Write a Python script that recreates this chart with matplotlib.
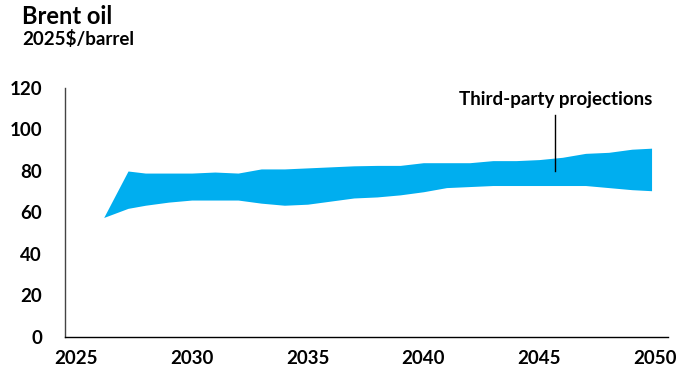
import matplotlib
matplotlib.use("Agg")
import matplotlib.pyplot as plt
import numpy as np

plt.rcParams['font.family'] = ['Lato', 'DejaVu Sans']
plt.rcParams['font.weight'] = 'bold'

# band of third-party projections (2025$/barrel)
years = [2026.2, 2027.25, 2028, 2029, 2030, 2031, 2032, 2033, 2034, 2035, 2036, 2037,
         2038, 2039, 2040, 2041, 2042, 2043, 2044, 2045, 2046, 2047, 2048, 2049, 2049.85]
upper = [57.6, 80, 79, 79, 79, 79.5, 79, 81, 81, 81.5, 82, 82.5,
         82.7, 82.7, 84, 84, 84, 85, 85, 85.5, 86.6, 88.5, 89, 90.5, 91]
lower = [57.6, 62, 63.5, 65, 66, 66, 66, 64.5, 63.5, 64, 65.5, 67,
         67.5, 68.5, 70, 72, 72.5, 73, 73, 73, 73, 73, 72, 71, 70.5]

xticks = [2025, 2030, 2035, 2040, 2045, 2050]
yticks = [0, 20, 40, 60, 80, 100, 120]

label_year = 2045.7
label_text = "Third-party projections"

fig = plt.figure(figsize=(6.78, 3.71), dpi=100)
ax = fig.add_axes([65/678, (371-337)/371, (668-65)/678, (337-88)/371])

ax.fill_between(years, lower, upper, color="#00AEEF", linewidth=0)

# label line + text
ax.plot([label_year, label_year], [80, 107], color="black", lw=1)
ax.text(label_year, 114.5, label_text, ha="center", va="center", fontsize=13.5, fontweight="bold")

ax.set_xlim(2024.53, 2050.56)
ax.set_ylim(0, 120)
ax.set_xticks(xticks)
ax.set_yticks(yticks)
ax.tick_params(axis="both", length=0, labelsize=13.5)
ax.tick_params(axis="x", pad=9.5)
ax.tick_params(axis="y", pad=16.5)
for lab in ax.get_xticklabels() + ax.get_yticklabels():
    lab.set_fontweight("bold")

ax.spines["top"].set_visible(False)
ax.spines["right"].set_visible(False)
ax.spines["left"].set_color("#444444")
ax.spines["left"].set_linewidth(1)
ax.spines["bottom"].set_color("black")
ax.spines["bottom"].set_linewidth(1)

fig.text(22/678, 1 - 5/371, "Brent oil", ha="left", va="top", fontsize=17, fontweight="bold")
fig.text(22/678, 1 - 30/371, "2025$/barrel", ha="left", va="top", fontsize=13.5, fontweight="bold")

plt.savefig("out.png", dpi=100)
